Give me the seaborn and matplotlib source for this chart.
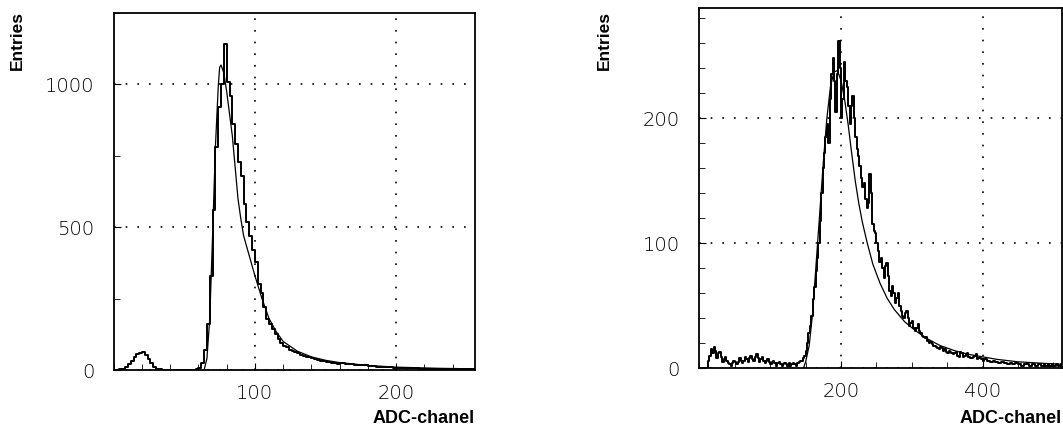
import numpy as np
import pandas as pd
import matplotlib
matplotlib.use("Agg")
import matplotlib.pyplot as plt
from matplotlib.ticker import MultipleLocator
import seaborn as sns

# left spectrum: 2-channel bins over 0..256
left_counts = [
    0, 0, 2, 5, 10, 20, 32, 45,
    55, 60, 63, 52, 38, 24, 12, 5,
    2, 0, 0, 0, 0, 0, 0, 0,
    0, 0, 0, 0, 0, 2, 8, 25,
    70, 160, 330, 560, 780, 920, 1000, 1140,
    1010, 960, 860, 790, 730, 680, 580, 520,
    470, 420, 380, 300, 270, 220, 180, 160,
    145, 125, 108, 95, 84, 80, 70, 66,
    62, 58, 54, 50, 47, 44, 41, 38,
    35, 33, 31, 29, 27, 25, 24, 22,
    24, 23, 22, 21, 20, 19, 18, 17,
    16, 16, 15, 14, 13, 12, 12, 11,
    10, 9, 9, 8, 8, 8, 7, 7,
    6, 6, 6, 6, 5, 5, 5, 5,
    5, 4, 4, 4, 4, 4, 4, 3,
    3, 3, 3, 3, 3, 3, 3, 3,
]
left_fit_x = [64, 66, 68, 70, 72, 74, 75, 76, 78, 80, 84, 88, 90, 92, 96, 100,
              105, 110, 115, 120, 130, 140, 150, 160, 180, 200, 230, 256]
left_fit_y = [0, 40, 180, 470, 780, 990, 1060, 1068, 1040, 975, 820, 600, 530, 470,
              400, 330, 250, 180, 135, 100, 66, 46, 34, 26, 16, 10, 6, 4]

# right spectrum: 2-channel bins over 0..512
right_counts = [
    0, 0, 0, 0, 0, 0, 6, 10, 15, 12, 17, 14, 8, 12, 13, 9,
    5, 7, 9, 6, 4, 3, 2, 4, 6, 5, 3, 5, 8, 6, 4, 6,
    9, 7, 5, 8, 10, 7, 6, 9, 11, 8, 5, 7, 9, 6, 4, 6,
    7, 5, 3, 5, 6, 4, 2, 4, 5, 3, 2, 3, 4, 3, 2, 4,
    2, 3, 4, 3, 2, 4, 5, 6, 6, 8, 10, 14, 20, 28, 34, 42,
    55, 65, 78, 88, 100, 118, 140, 160, 172, 185, 195, 180, 215, 235, 248, 230,
    205, 235, 262, 240, 200, 215, 245, 230, 225, 210, 195, 210, 218, 200, 185, 175,
    170, 162, 152, 145, 148, 135, 128, 132, 155, 140, 115, 110, 108, 100, 94, 85,
    88, 80, 72, 82, 84, 74, 62, 58, 66, 60, 52, 56, 60, 50, 46, 42,
    40, 44, 46, 40, 34, 36, 38, 32, 30, 32, 35, 30, 28, 26, 25, 24,
    25, 22, 20, 21, 19, 18, 18, 17, 16, 15, 17, 16, 14, 15, 13, 12,
    14, 13, 12, 11, 12, 13, 10, 9, 13, 12, 9, 10, 11, 12, 9, 8,
    8, 9, 10, 11, 7, 8, 8, 7, 6, 7, 7, 6, 6, 5, 5, 6,
    6, 5, 5, 4, 4, 5, 5, 4, 4, 3, 3, 4, 4, 3, 3, 4,
    4, 3, 3, 2, 2, 3, 3, 4, 3, 2, 2, 3, 3, 2, 2, 3,
    3, 2, 2, 3, 2, 2, 3, 2, 2, 3, 2, 2, 3, 2, 2, 3,
]
right_fit_x = [147, 150, 155, 160, 165, 170, 175, 180, 185, 190, 195, 200, 205, 210,
               215, 220, 225, 230, 237, 245, 255, 265, 275, 290, 305, 320, 340, 360,
               380, 400, 420, 450, 480, 512]
right_fit_y = [0, 5, 18, 45, 85, 125, 165, 200, 225, 237, 238, 230, 215, 195,
               172, 150, 132, 117, 100, 83, 68, 56, 47, 37, 30, 24, 18, 14,
               11, 9, 7, 5, 4, 3]

sns.set_style("ticks")
plt.rcParams["font.family"] = ["DejaVu Sans"]
plt.rcParams["text.color"] = "black"

fig = plt.figure(figsize=(10.63, 4.29), dpi=100)
ax_l = fig.add_axes([0.107, 0.1375, 0.340, 0.832])
ax_r = fig.add_axes([0.658, 0.142, 0.341, 0.839])


def draw_panel(ax, counts, width, fit_x, fit_y, xmax, ymax, xmajor, xminor, ymajor, yminor):
    df = pd.DataFrame({"chan": np.arange(len(counts)) * width + width / 2,
                       "n": counts})
    sns.histplot(data=df, x="chan", weights="n", binwidth=width, binrange=(0, xmax),
                 element="step", fill=False, color="black", linewidth=1.4, ax=ax)
    sns.lineplot(x=fit_x, y=fit_y, color="black", linewidth=0.9, ax=ax)
    ax.set_xlim(0, xmax)
    ax.set_ylim(0, ymax)
    ax.xaxis.set_major_locator(MultipleLocator(xmajor))
    ax.xaxis.set_minor_locator(MultipleLocator(xminor))
    ax.yaxis.set_major_locator(MultipleLocator(ymajor))
    ax.yaxis.set_minor_locator(MultipleLocator(yminor))
    ax.grid(True, which="major", color="black", linestyle=(0, (1, 6)), linewidth=1.2)
    ax.tick_params(which="both", direction="in", top=False, right=False,
                   color="black", labelcolor="black")
    ax.tick_params(which="major", length=5, labelsize=14, pad=10)
    ax.tick_params(which="minor", length=4)
    ax.tick_params(axis="y", which="major", pad=14)
    for s in ax.spines.values():
        s.set_visible(True)
        s.set_color("black")
        s.set_linewidth(1.3)
    ax.set_xlabel("")
    ax.set_ylabel("")
    labels = [t for t in ax.get_xticks() if 0 < t <= xmax]
    ax.set_xticks(labels)
    ax.set_xticklabels([str(int(t)) for t in labels])
    for t in ax.get_xticklabels() + ax.get_yticklabels():
        t.set_fontweight("light")


draw_panel(ax_l, left_counts, 2, left_fit_x, left_fit_y, 256, 1250, 100, 20, 500, 250)
draw_panel(ax_r, right_counts, 2, right_fit_x, right_fit_y, 512, 288, 200, 50, 100, 20)

for xe, xa in [(0.016, 0.447), (0.569, 0.999)]:
    fig.text(xe, 0.975, "Entries", rotation=90, ha="center", va="top", color="black",
             fontsize=12.5, fontweight="bold", family="Liberation Sans")
    fig.text(xa, 0.005, "ADC-chanel", ha="right", va="bottom", color="black",
             fontsize=13, fontweight="bold", family="Liberation Sans")

fig.savefig("out.png", dpi=100, facecolor="white")
